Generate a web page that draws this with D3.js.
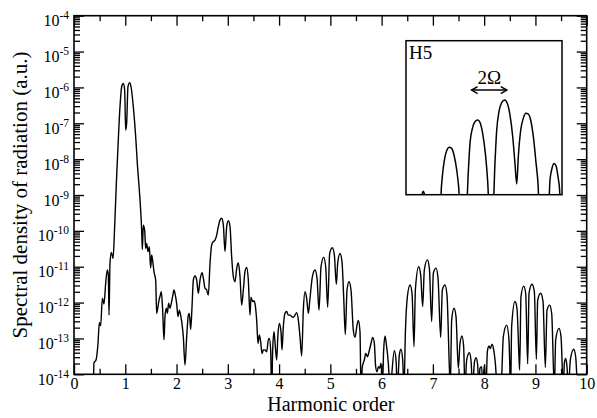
<!DOCTYPE html>
<html>
<head>
<meta charset="utf-8">
<script src="https://cdn.jsdelivr.net/npm/d3@7"></script>
<style>
  html, body { margin: 0; padding: 0; background: #fff; }
  svg { display: block; font-family: "Liberation Serif", "Times New Roman", serif; }
</style>
</head>
<body>
<svg id="chart" width="597" height="418"></svg>
<script>
// ---- data -------------------------------------------------------------
const xTicksMajor = [0, 1, 2, 3, 4, 5, 6, 7, 8, 9, 10];
const xTicksMinor = [0.5, 1.5, 2.5, 3.5, 4.5, 5.5, 6.5, 7.5, 8.5, 9.5];
const yDecades = [-14, -13, -12, -11, -10, -9, -8, -7, -6, -5, -4];

// emission spectrum: [harmonic order, log10 spectral density]
const spectrum = [
  [0.377,-14.5],[0.390,-13.68],[0.429,-13.60],[0.468,-13.14],[0.494,-12.56],[0.520,-12.65],
  [0.553,-11.88],[0.585,-12.04],[0.618,-11.46],[0.650,-11.09],[0.670,-11.23],[0.683,-12.35],
  [0.702,-10.91],[0.728,-10.60],[0.761,-10.77],[0.793,-9.88],[0.826,-8.67],[0.858,-7.65],
  [0.897,-6.54],[0.930,-5.98],[0.962,-5.89],[0.988,-6.07],[1.008,-7.19],[1.027,-7.00],
  [1.053,-5.98],[1.086,-5.87],[1.118,-6.03],[1.157,-6.54],[1.203,-7.37],[1.235,-8.12],
  [1.274,-8.86],[1.300,-9.42],[1.320,-9.98],[1.333,-10.52],[1.352,-9.84],[1.378,-9.98],
  [1.398,-10.49],[1.417,-10.35],[1.443,-10.58],[1.469,-10.44],[1.495,-11.04],[1.515,-10.67],
  [1.541,-10.91],[1.560,-11.14],[1.593,-11.37],[1.612,-12.30],[1.638,-12.11],[1.658,-11.93],
  [1.677,-11.83],[1.703,-11.70],[1.729,-12.21],[1.755,-13.04],[1.775,-12.39],[1.801,-12.16],
  [1.820,-12.30],[1.846,-12.02],[1.872,-12.16],[1.898,-12.02],[1.924,-11.83],[1.950,-11.65],
  [1.976,-11.79],[2.002,-12.02],[2.028,-12.39],[2.054,-12.21],[2.080,-12.35],[2.120,-12.76],
  [2.132,-12.95],[2.165,-13.74],[2.198,-12.95],[2.230,-12.35],[2.250,-12.30],[2.276,-12.75],
  [2.302,-12.11],[2.328,-11.37],[2.360,-11.26],[2.393,-11.37],[2.425,-11.74],[2.458,-11.37],
  [2.497,-11.17],[2.523,-11.32],[2.555,-11.60],[2.588,-11.65],[2.620,-11.79],[2.653,-10.91],
  [2.685,-10.39],[2.718,-10.30],[2.750,-10.26],[2.783,-10.12],[2.815,-9.88],[2.848,-9.70],
  [2.880,-9.65],[2.913,-9.84],[2.945,-10.58],[2.978,-9.88],[3.010,-9.72],[3.043,-9.88],
  [3.075,-10.72],[3.108,-11.28],[3.140,-11.42],[3.173,-11.05],[3.205,-10.89],[3.238,-11.28],
  [3.270,-12.07],[3.303,-11.65],[3.335,-11.14],[3.368,-11.02],[3.400,-11.37],[3.433,-12.35],
  [3.452,-11.85],[3.485,-11.97],[3.511,-11.95],[3.537,-12.10],[3.563,-12.49],[3.589,-13.14],
  [3.615,-12.90],[3.641,-13.09],[3.667,-13.42],[3.693,-13.32],[3.725,-13.32],[3.758,-13.37],
  [3.790,-13.04],[3.810,-13.00],[3.836,-13.32],[3.855,-14.6],[3.875,-13.32],[3.901,-12.81],
  [3.927,-13.23],[3.953,-13.60],[3.979,-12.86],[4.005,-12.58],[4.037,-12.81],[4.057,-13.32],
  [4.083,-12.67],[4.115,-12.30],[4.148,-12.25],[4.180,-12.35],[4.213,-12.35],[4.246,-12.39],
  [4.278,-12.41],[4.311,-12.35],[4.343,-12.28],[4.376,-12.49],[4.408,-12.95],[4.441,-13.49],
  [4.473,-12.21],[4.506,-11.70],[4.538,-11.88],[4.571,-12.30],[4.603,-11.88],[4.649,-11.28],
  [4.701,-11.09],[4.740,-11.32],[4.779,-12.21],[4.818,-11.00],[4.870,-10.74],[4.909,-11.00],
  [4.948,-12.13],[4.987,-10.63],[5.039,-10.47],[5.078,-10.67],[5.117,-11.49],[5.143,-10.91],
  [5.188,-10.63],[5.227,-10.86],[5.260,-11.84],[5.292,-12.89],[5.325,-11.65],[5.364,-11.42],
  [5.403,-11.65],[5.448,-12.77],[5.481,-12.97],[5.520,-12.63],[5.546,-12.50],[5.578,-12.81],
  [5.598,-14.4],[5.624,-13.79],[5.663,-13.60],[5.689,-13.42],[5.728,-13.51],[5.754,-13.37],
  [5.793,-13.14],[5.826,-12.97],[5.858,-13.14],[5.884,-13.79],[5.910,-13.93],[5.936,-13.79],
  [5.962,-13.83],[5.988,-13.69],[6.014,-14.4],[6.040,-13.32],[6.066,-12.93],[6.098,-13.23],
  [6.131,-13.69],[6.163,-14.4],[6.248,-13.34],[6.281,-13.60],[6.307,-14.4],[6.346,-13.46],
  [6.378,-13.30],[6.411,-13.60],[6.437,-14.4],[6.463,-12.86],[6.502,-11.84],[6.554,-11.51],
  [6.593,-11.74],[6.632,-13.23],[6.658,-11.65],[6.723,-11.00],[6.762,-11.23],[6.801,-12.11],
  [6.833,-11.09],[6.892,-10.81],[6.931,-11.04],[6.976,-12.53],[7.009,-11.18],[7.061,-11.04],
  [7.100,-11.32],[7.152,-12.97],[7.184,-11.65],[7.236,-11.51],[7.275,-11.79],[7.321,-13.79],
  [7.340,-14.4],[7.366,-12.49],[7.412,-12.16],[7.451,-12.39],[7.496,-13.83],[7.529,-13.14],
  [7.568,-12.93],[7.600,-13.23],[7.626,-14.4],[7.659,-13.60],[7.711,-13.40],[7.743,-13.60],
  [7.776,-14.4],[7.808,-13.69],[7.841,-13.54],[7.874,-13.74],[7.893,-14.4],[7.919,-13.83],
  [7.951,-13.79],[7.971,-14.4],[8.003,-13.74],[8.036,-14.4],[8.062,-13.37],[8.094,-13.21],
  [8.120,-13.28],[8.153,-13.16],[8.186,-13.32],[8.218,-13.69],[8.257,-14.4],[8.328,-14.4],
  [8.374,-12.95],[8.439,-12.63],[8.484,-13.04],[8.517,-14.4],[8.536,-12.67],[8.601,-11.97],
  [8.640,-12.16],[8.679,-13.51],[8.692,-13.88],[8.718,-11.84],[8.770,-11.54],[8.810,-11.74],
  [8.849,-13.71],[8.875,-11.74],[8.933,-11.49],[8.979,-11.70],[9.018,-13.58],[9.044,-11.93],
  [9.102,-11.74],[9.148,-11.97],[9.193,-13.81],[9.226,-12.21],[9.278,-12.07],[9.317,-12.30],
  [9.369,-14.4],[9.395,-13.04],[9.460,-12.72],[9.499,-12.95],[9.544,-14.4],[9.564,-13.69],
  [9.590,-13.56],[9.616,-13.79],[9.642,-14.4],[9.681,-13.60],[9.746,-13.30],[9.785,-13.51],
  [9.824,-14.4],[9.900,-14.6]
];

// fine structure of the fifth harmonic: [harmonic order, log10 spectral density]
const insetH5 = [
  [4.400,-12.0],[4.515,-11.80],[4.522,-11.70],[4.528,-11.67],[4.534,-11.70],[4.541,-11.80],
  [4.635,-12.0],[4.639,-11.716],[4.647,-11.479],[4.660,-11.260],[4.674,-11.137],[4.691,-11.093],
  [4.705,-11.106],[4.720,-11.194],[4.737,-11.391],[4.749,-11.611],[4.762,-12.0],
  [4.795,-12.0],[4.810,-11.391],[4.820,-11.040],[4.835,-10.843],[4.851,-10.755],[4.868,-10.733],
  [4.883,-10.768],[4.899,-10.909],[4.916,-11.172],[4.930,-11.523],[4.943,-12.0],
  [4.962,-12.0],[4.976,-11.304],[4.987,-10.865],[5.001,-10.624],[5.018,-10.505],[5.037,-10.470],
  [5.053,-10.514],[5.070,-10.668],[5.087,-10.953],[5.101,-11.304],[5.112,-11.576],
  [5.122,-11.216],[5.137,-10.865],[5.153,-10.712],[5.170,-10.646],[5.185,-10.655],[5.199,-10.733],
  [5.216,-10.953],[5.233,-11.304],[5.245,-11.567],[5.255,-12.0],
  [5.308,-12.0],[5.320,-11.523],[5.330,-11.391],[5.345,-11.304],[5.358,-11.339],[5.370,-11.479],
  [5.380,-11.655],[5.387,-12.0],[5.420,-12.2]
];
const insetXRange = [4.42, 5.395];
const insetLogRange = [-11.716, -9.69];
const arrowSpan = [4.83, 5.05];
const arrowLog = -10.34;

const insetLabel = "H5";
const spacingLabel = "2\u03A9";
const xTitle = "Harmonic order";
const yTitle = "Spectral density of radiation (a.u.)";

// ---- layout -----------------------------------------------------------
const plot = { left: 74, right: 586.7, top: 15.7, bottom: 374.3 };
const inset = { left: 406, top: 40.7, width: 156, height: 154 };
const svg = d3.select("#chart");
const serif = '"Liberation Serif", "Times New Roman", serif';

const x = d3.scaleLinear().domain([0, 10]).range([plot.left, plot.right]);
const y = d3.scaleLog().domain([1e-14, 1e-4]).range([plot.bottom, plot.top]);

const yMajor = yDecades.map(d => Math.pow(10, d));
const yMinor = [];
yDecades.slice(0, -1).forEach(d => {
  for (let k = 2; k <= 9; k++) yMinor.push(k * Math.pow(10, d));
});

function drawAxis(axis, tx, ty) {
  const g = svg.append("g")
    .attr("transform", `translate(${tx},${ty})`)
    .call(axis);
  g.select(".domain").remove();
  g.selectAll(".tick line").attr("stroke", "#000").attr("stroke-width", 1.3);
  g.attr("font-family", serif).attr("font-size", 16);
  g.selectAll(".tick text").attr("fill", "#000");
  return g;
}

// x axes (bottom labelled, top ticks only), ticks pointing inwards
drawAxis(d3.axisBottom(x).tickValues(xTicksMajor).tickSize(-10).tickPadding(3.5)
  .tickFormat(d3.format("d")), 0, plot.bottom);
drawAxis(d3.axisBottom(x).tickValues(xTicksMinor).tickSize(-5.5).tickFormat(""), 0, plot.bottom);
drawAxis(d3.axisTop(x).tickValues(xTicksMajor).tickSize(-10).tickFormat(""), 0, plot.top);
drawAxis(d3.axisTop(x).tickValues(xTicksMinor).tickSize(-5.5).tickFormat(""), 0, plot.top);

// y axes (log), ticks pointing inwards on both sides
drawAxis(d3.axisLeft(y).tickValues(yMajor).tickSize(-10).tickFormat(""), plot.left, 0);
drawAxis(d3.axisLeft(y).tickValues(yMinor).tickSize(-6).tickFormat(""), plot.left, 0);
drawAxis(d3.axisRight(y).tickValues(yMajor).tickSize(-10).tickFormat(""), plot.right, 0);
drawAxis(d3.axisRight(y).tickValues(yMinor).tickSize(-6).tickFormat(""), plot.right, 0);

// power-of-ten labels
const yLab = svg.append("g").attr("font-family", serif).attr("fill", "#000");
yDecades.forEach(d => {
  const t = yLab.append("text")
    .attr("x", plot.left - 5)
    .attr("y", y(Math.pow(10, d)) + 10.5)
    .attr("text-anchor", "end");
  t.append("tspan").attr("font-size", 16).text("10");
  t.append("tspan").attr("font-size", 11.5).attr("dy", -7).text(String(d));
});

// clip and spectrum
svg.append("clipPath").attr("id", "plotClip")
  .append("rect")
  .attr("x", plot.left).attr("y", plot.top)
  .attr("width", plot.right - plot.left).attr("height", plot.bottom - plot.top);

const line = d3.line()
  .x(d => x(d[0]))
  .y(d => y(Math.pow(10, d[1])))
  .curve(d3.curveMonotoneX);

svg.append("path")
  .datum(spectrum)
  .attr("clip-path", "url(#plotClip)")
  .attr("d", line)
  .attr("fill", "none")
  .attr("stroke", "#000")
  .attr("stroke-width", 1.4)
  .attr("stroke-linejoin", "round");

// frame
svg.append("rect")
  .attr("x", plot.left).attr("y", plot.top)
  .attr("width", plot.right - plot.left).attr("height", plot.bottom - plot.top)
  .attr("fill", "none").attr("stroke", "#000").attr("stroke-width", 1.6);

// axis titles
svg.append("text")
  .attr("x", (plot.left + plot.right) / 2 + 0.5)
  .attr("y", 410.5)
  .attr("text-anchor", "middle")
  .attr("font-family", serif).attr("font-size", 20)
  .text(xTitle);

svg.append("text")
  .attr("transform", `translate(27,${(plot.top + plot.bottom) / 2}) rotate(-90)`)
  .attr("text-anchor", "middle")
  .attr("font-family", serif).attr("font-size", 21)
  .text(yTitle);

// ---- inset: fifth harmonic ---------------------------------------------
const xi = d3.scaleLinear().domain(insetXRange).range([inset.left, inset.left + inset.width]);
const yi = d3.scaleLog().domain(insetLogRange.map(v => Math.pow(10, v)))
  .range([inset.top + inset.height, inset.top]);

svg.append("rect")
  .attr("x", inset.left).attr("y", inset.top)
  .attr("width", inset.width).attr("height", inset.height)
  .attr("fill", "#fff");

svg.append("clipPath").attr("id", "insetClip")
  .append("rect")
  .attr("x", inset.left).attr("y", inset.top)
  .attr("width", inset.width).attr("height", inset.height);

const insetLine = d3.line()
  .x(d => xi(d[0]))
  .y(d => yi(Math.pow(10, d[1])))
  .curve(d3.curveMonotoneX);

svg.append("path")
  .datum(insetH5)
  .attr("clip-path", "url(#insetClip)")
  .attr("d", insetLine)
  .attr("fill", "none")
  .attr("stroke", "#000")
  .attr("stroke-width", 1.5)
  .attr("stroke-linejoin", "round");

svg.append("rect")
  .attr("x", inset.left).attr("y", inset.top)
  .attr("width", inset.width).attr("height", inset.height)
  .attr("fill", "none").attr("stroke", "#000").attr("stroke-width", 1.5);

svg.append("text")
  .attr("x", inset.left + 3)
  .attr("y", inset.top + 18.5)
  .attr("font-family", serif).attr("font-size", 19)
  .text(insetLabel);

// double-headed arrow marking the 2Ω spacing
const ax0 = xi(arrowSpan[0]), ax1 = xi(arrowSpan[1]), ay = yi(Math.pow(10, arrowLog));
const arrow = svg.append("g").attr("stroke", "#000").attr("fill", "none").attr("stroke-width", 1.5);
arrow.append("line").attr("x1", ax0).attr("x2", ax1).attr("y1", ay).attr("y2", ay);
arrow.append("path").attr("d", `M${ax0 + 6},${ay - 3.5}L${ax0},${ay}L${ax0 + 6},${ay + 3.5}`);
arrow.append("path").attr("d", `M${ax1 - 6},${ay - 3.5}L${ax1},${ay}L${ax1 - 6},${ay + 3.5}`);

svg.append("text")
  .attr("x", (ax0 + ax1) / 2)
  .attr("y", ay - 6.5)
  .attr("text-anchor", "middle")
  .attr("font-family", serif).attr("font-size", 19)
  .text(spacingLabel);
</script>
</body>
</html>
